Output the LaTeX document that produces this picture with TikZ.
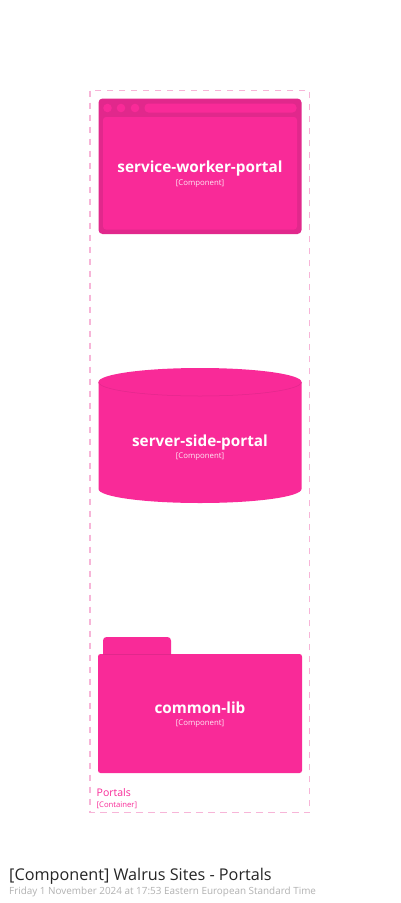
\documentclass[tikz,border=0pt]{standalone}
\usepackage{fontspec}
\setmainfont{Open Sans}
\definecolor{pk}{HTML}{F92A98}
\definecolor{pkd}{HTML}{E1288C}
\definecolor{pkl}{HTML}{F7B5D8}
\tikzset{x=1pt,y=-1pt,
 txt/.style={inner sep=0pt,align=center,anchor=base},
 ttl/.style={txt,text=white,font=\bfseries\fontsize{15.3}{18}\selectfont},
 tag/.style={txt,text=white!90!pk,font=\fontsize{7.8}{9}\selectfont},
 dot/.style={circle,fill=pk,inner sep=0pt,minimum size=8.6pt},
 lefttxt/.style={inner sep=0pt,anchor=base west}}
\begin{document}
\begin{tikzpicture}
\useasboundingbox (0,0) rectangle (400,903);
\fill[white] (0,0) rectangle (400,903);
% container
\draw[pkl,line width=1.2pt,dash pattern=on 6.5pt off 5.5pt] (90,90.5) rectangle (309.5,812.5);
% browser
\fill[pkd,rounded corners=4pt] (98.5,98.5) rectangle (301.5,234);
\fill[pk,rounded corners=3pt] (103,117) rectangle (297,229.5);
\fill[pk,rounded corners=4pt] (144.5,103.5) rectangle (296.5,112.5);
\node[dot] (d1) at (107.5,108) {};
\node[dot] (d2) at (121,108) {};
\node[dot] (d3) at (135,108) {};
\node[ttl] (a) at (200,172.5) {service-worker-portal};
\node[tag] (at) at (200,185.3) {[Component]};
% cylinder
\fill[pk] (98.5,382) arc[x radius=101.5,y radius=14,start angle=180,end angle=360]
 -- (301.5,489) arc[x radius=101.5,y radius=14,start angle=0,end angle=180] -- cycle;
\draw[pkd,line width=.5pt] (98.5,382) arc[x radius=101.5,y radius=14,start angle=180,end angle=0];
\node[ttl] (b) at (200,446) {server-side-portal};
\node[tag] (bt) at (200,458) {[Component]};
% folder
\fill[pk,rounded corners=3.5pt] (103,660) -- (103,637) -- (171,637) -- (171,660) -- cycle;
\fill[pk,rounded corners=2.5pt] (98,654) rectangle (302,773);
\draw[pkd,line width=.4pt] (103,654) -- (171,654);
\node[ttl] (c) at (200,713.5) {common-lib};
\node[tag] (ct) at (200,725.8) {[Component]};
% labels
\node[lefttxt,text=pk,font=\fontsize{10.5}{12}\selectfont] (p) at (96.5,796) {Portals};
\node[lefttxt,text=pk,font=\fontsize{7.7}{9}\selectfont] (pc) at (96.5,807) {[Container]};
\node[lefttxt,text=black!85,font=\fontsize{16.2}{19}\selectfont] (t) at (9,880.5) {[Component] Walrus Sites - Portals};
\node[lefttxt,text=black!30,font=\fontsize{9.9}{12}\selectfont] (s) at (9,894) {Friday 1 November 2024 at 17:53 Eastern European Standard Time};
\end{tikzpicture}
\end{document}
